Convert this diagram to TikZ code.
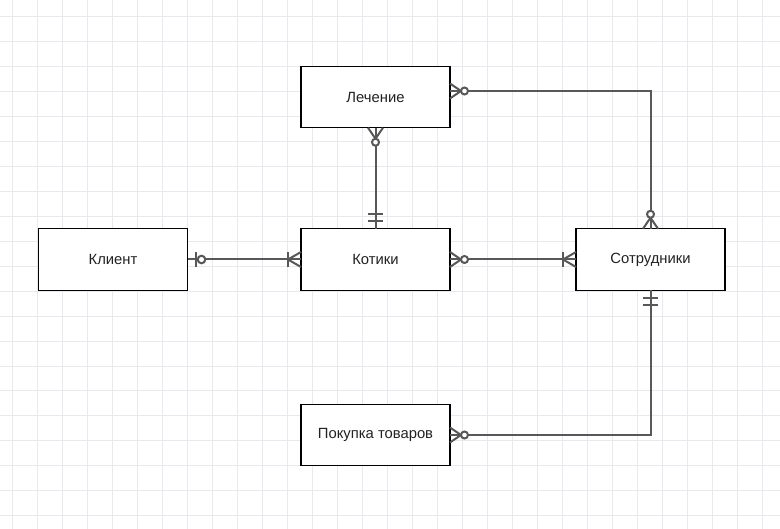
\documentclass[tikz,border=0pt]{standalone}
\usepackage{fontspec}
\setmainfont{Liberation Sans}
\usetikzlibrary{calc}
\definecolor{gridc}{HTML}{E8E8EE}
\definecolor{linec}{HTML}{585858}
\definecolor{textc}{HTML}{222222}
\tikzset{
  entity/.style={draw=black, line width=1.3pt, fill=white, minimum width=149pt, minimum height=61.5pt, inner sep=0pt, outer sep=0pt, text=textc, font=\fontsize{14.8}{17}\selectfont},
  rel/.style={draw=linec, line width=2pt},
  mk/.style={draw=linec, line width=2pt},
  zmany/.pic={\draw[mk] (0,7.5) -- (11,0) -- (0,-7.5); \draw[mk, fill=white] (14.5,0) circle[radius=3.5pt];},
  omany/.pic={\draw[mk] (0,7.5) -- (13,0) -- (0,-7.5); \draw[mk] (13,7.5) -- (13,-7.5);},
  zone/.pic={\draw[mk] (8,7.5) -- (8,-7.5); \draw[mk, fill=white] (14,0) circle[radius=3.8pt];},
  oone/.pic={\draw[mk] (8,7.5) -- (8,-7.5); \draw[mk] (15,7.5) -- (15,-7.5);}
}
\begin{document}
\begin{tikzpicture}[x=1pt, y=-1pt]
\useasboundingbox (0,0) rectangle (780,529);
\fill[white] (0,0) rectangle (780,529);
\foreach \i in {0,...,30} \draw[gridc, line width=0.9pt] ({12.8+25*\i},0) -- ({12.8+25*\i},529);
\foreach \j in {0,...,21} \draw[gridc, line width=0.9pt] (0,{16.7+24.95*\j}) -- (780,{16.7+24.95*\j});

\node[entity] (lech) at (375.5,97) {Лечение};
\node[entity] (kli) at (113,259.5) {Клиент};
\node[entity] (kot) at (375.5,259.5) {Котики};
\node[entity] (sotr) at (650.5,259.5) {Сотрудники};
\node[entity] (pok) at (375.5,435) {Покупка товаров};

\coordinate (le) at ($(lech.east)+(0,-6)$);

\draw[rel] (kli.east) -- (kot.west);
\draw[rel] (kot.east) -- (sotr.west);
\draw[rel] (lech.south) -- (kot.north);
\draw[rel] (le) -| (sotr.north);
\draw[rel] (sotr.south) |- (pok.east);

\pic at (kli.east) {zone};
\pic[rotate=180] at (kot.west) {omany};
\pic at (kot.east) {zmany};
\pic[rotate=180] at (sotr.west) {omany};
\pic[rotate=-90] at (lech.south) {zmany};
\pic[rotate=90] at (kot.north) {oone};
\pic at (le) {zmany};
\pic[rotate=90] at (sotr.north) {zmany};
\pic[rotate=-90] at (sotr.south) {oone};
\pic at (pok.east) {zmany};
\end{tikzpicture}
\end{document}
